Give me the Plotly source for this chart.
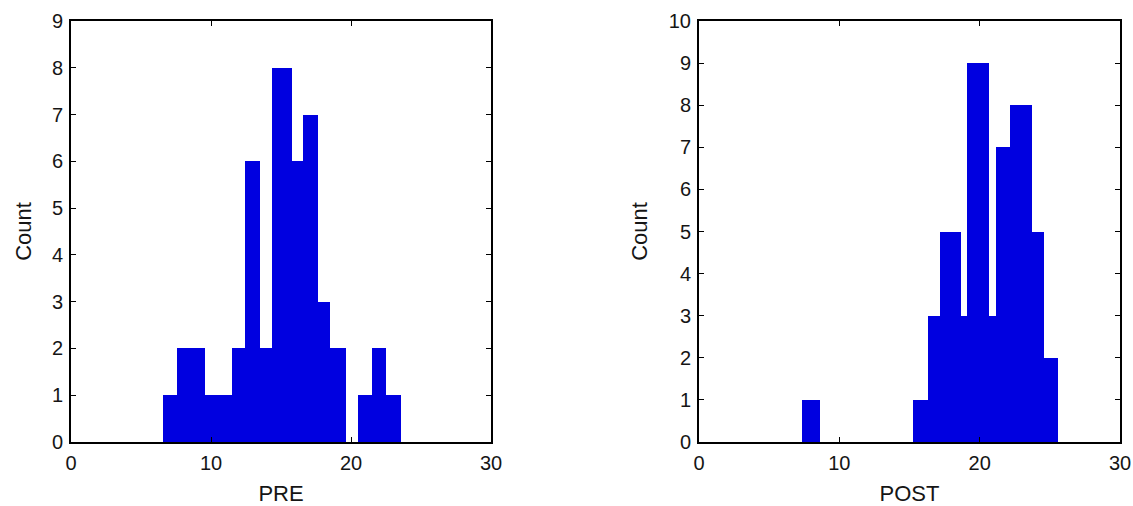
import plotly.graph_objects as go

# ---- data ----
pre_edges = [6.54, 7.55, 9.57, 11.48, 12.43, 13.5, 14.34, 15.76, 16.59, 17.62,
             18.5, 19.64, 20.52, 21.48, 22.5, 23.55]
pre_counts = [1, 2, 1, 2, 6, 2, 8, 6, 7, 3, 2, 0, 1, 2, 1]

post_edges = [7.32, 8.62, 15.23, 16.34, 17.18, 18.67, 19.12, 20.67, 21.14,
              22.17, 23.71, 24.59, 25.61]
post_counts = [1, 0, 1, 3, 5, 3, 9, 3, 7, 8, 5, 2]

x_ticks = [0, 10, 20, 30]
pre_yticks = list(range(0, 10))
post_yticks = list(range(0, 11))

BAR = "#0000e0"
FONT = "Liberation Sans, Arial, sans-serif"
TXT = "#151515"


def centers(edges):
    return [(a + b) / 2 for a, b in zip(edges[:-1], edges[1:])]


def widths(edges):
    return [b - a for a, b in zip(edges[:-1], edges[1:])]


fig = go.Figure()
fig.add_trace(go.Bar(x=centers(pre_edges), y=pre_counts, width=widths(pre_edges),
                     marker=dict(color=BAR, line=dict(width=0)),
                     xaxis="x", yaxis="y", showlegend=False))
fig.add_trace(go.Bar(x=centers(post_edges), y=post_counts, width=widths(post_edges),
                     marker=dict(color=BAR, line=dict(width=0)),
                     xaxis="x2", yaxis="y2", showlegend=False))

W, H = 1133, 506


def px_x(p):
    return p / W


def px_y(p):
    return 1 - p / H


ydom = [px_y(442), px_y(21)]

common_axis = dict(showgrid=False, zeroline=False, showline=True, linecolor="black",
                   linewidth=2, mirror="ticks", ticks="inside", ticklen=5,
                   tickwidth=1, tickcolor="black", automargin=False,
                   tickfont=dict(family=FONT, size=20, color=TXT))
title_font = dict(family=FONT, size=22, color=TXT)

fig.update_layout(
    width=W, height=H,
    margin=dict(l=0, r=0, t=0, b=0),
    paper_bgcolor="white", plot_bgcolor="white",
    bargap=0,
    xaxis=dict(domain=[px_x(71), px_x(491)], range=[0, 30], tickvals=x_ticks,
               anchor="y", ticklabelstandoff=2,
               title=dict(text="PRE", font=title_font, standoff=13), **common_axis),
    yaxis=dict(domain=ydom, range=[0, 9], tickvals=pre_yticks, anchor="x",
               ticklabelstandoff=2,
               title=dict(text="Count", font=title_font, standoff=14), **common_axis),
    xaxis2=dict(domain=[px_x(699), px_x(1120)], range=[0, 30], tickvals=x_ticks,
                anchor="y2", ticklabelstandoff=2,
                title=dict(text="POST", font=title_font, standoff=13), **common_axis),
    yaxis2=dict(domain=ydom, range=[0, 10], tickvals=post_yticks, anchor="x2",
                ticklabelstandoff=2,
                title=dict(text="Count", font=title_font, standoff=15), **common_axis),
)

fig.write_html(
    "out.html",
    config={"displayModeBar": False},
    post_script="document.body.style.margin='0';document.body.style.overflow='hidden';",
)
